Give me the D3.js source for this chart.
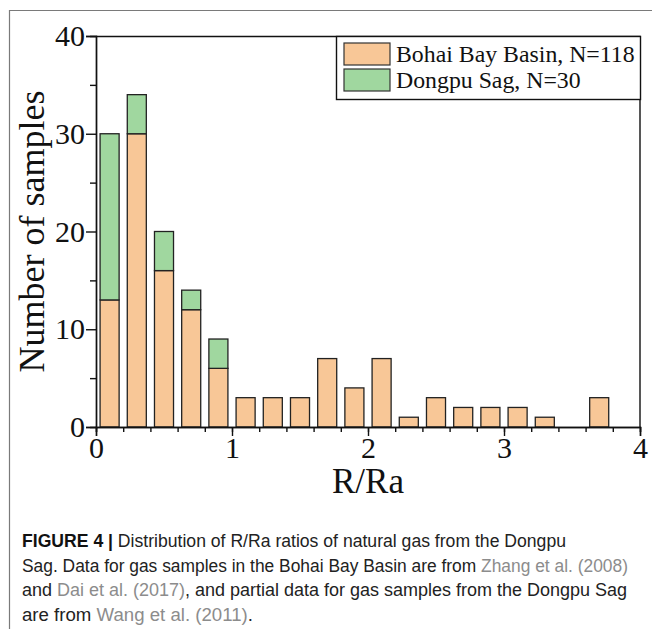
<!DOCTYPE html>
<html>
<head>
<meta charset="utf-8">
<script src="https://cdn.jsdelivr.net/npm/d3@7"></script>
<style>
  body { margin: 0; background: #fff; }
  svg { display: block; }
</style>
</head>
<body>
<svg id="chart" width="652" height="629"></svg>
<script>
// bin centres of the R/Ra histogram (bin width 0.2)
const binCenters = [0.1, 0.3, 0.5, 0.7, 0.9, 1.1, 1.3, 1.5, 1.7, 1.9, 2.1, 2.3, 2.5, 2.7, 2.9, 3.1, 3.3, 3.5, 3.7];
const bohaiCounts = [13, 30, 16, 12, 6, 3, 3, 3, 7, 4, 7, 1, 3, 2, 2, 2, 1, 0, 3];
const dongpuCounts = [17, 4, 4, 2, 3, 0, 0, 0, 0, 0, 0, 0, 0, 0, 0, 0, 0, 0, 0];
const seriesNames = ["Bohai Bay Basin, N=118", "Dongpu Sag, N=30"];
const seriesColors = ["#f8c797", "#a0d79f"];
const xTicks = [0, 1, 2, 3, 4];
const xMinorTicks = d3.range(0, 4.01, 0.2);
const yTicks = [0, 10, 20, 30, 40];
const yMinorTicks = [5, 15, 25, 35];

let svg = d3.select("#chart");
let margin = {left: 96, top: 36, right: 12, bottom: 202};
let width = +svg.attr("width") - margin.left - margin.right;
let height = +svg.attr("height") - margin.top - margin.bottom;

let x = d3.scaleLinear().domain([0, 4]).range([0, width]);
let y = d3.scaleLinear().domain([0, 40]).range([height, 0]);
const serif = "'Liberation Serif', 'Times New Roman', serif";

// outer figure frame (only top and left visible)
svg.append("path")
    .attr("d", "M9.5,660 V10.5 H700")
    .attr("fill", "none")
    .attr("stroke", "#7a7a7a")
    .attr("stroke-width", 1.2);

let g = svg.append("g").attr("transform", `translate(${margin.left}, ${margin.top})`);

// stack the two series
let rows = binCenters.map((c, i) => ({center: c, bohai: bohaiCounts[i], dongpu: dongpuCounts[i]}));
let stacked = d3.stack().keys(["bohai", "dongpu"])(rows);
let barW = (x(0.2) - x(0)) * 0.7;

stacked.forEach((layer, li) => {
    g.selectAll(".bar-" + li)
        .data(layer.filter((d) => d[1] > d[0]))
        .enter()
        .append("rect")
        .attr("class", "bar-" + li)
        .attr("x", (d) => x(d.data.center) - barW / 2)
        .attr("y", (d) => y(d[1]))
        .attr("width", barW)
        .attr("height", (d) => y(d[0]) - y(d[1]))
        .attr("fill", seriesColors[li])
        .attr("stroke", "#222")
        .attr("stroke-width", 1.3);
});

// frame top/right
g.append("path")
    .attr("d", `M0,0.5 H${width} V${height}`)
    .attr("fill", "none")
    .attr("stroke", "#111")
    .attr("stroke-width", 1.4);

// axes
let xAxis = g.append("g").attr("transform", `translate(0, ${height})`);
xAxis.call(d3.axisBottom(x).tickValues(xMinorTicks).tickSize(5).tickFormat(""));
xAxis.append("g").call(d3.axisBottom(x).tickValues(xTicks).tickSize(9).tickPadding(2).tickFormat(d3.format("d")));
let yAxis = g.append("g");
yAxis.call(d3.axisLeft(y).tickValues(yMinorTicks).tickSize(6).tickFormat(""));
yAxis.append("g").call(d3.axisLeft(y).tickValues(yTicks).tickSize(10).tickPadding(1).tickFormat(d3.format("d")));

g.selectAll(".domain").attr("stroke", "#111").attr("stroke-width", 1.4);
g.selectAll(".tick line").attr("stroke", "#111").attr("stroke-width", 1.4);
g.selectAll(".tick text")
    .attr("font-family", serif)
    .attr("font-size", 30)
    .attr("fill", "#111");
xAxis.selectAll(".tick text").attr("dy", "0.68em");

// axis titles
svg.append("text")
    .attr("transform", `translate(44, ${margin.top + height / 2}) rotate(270)`)
    .attr("text-anchor", "middle")
    .attr("font-family", serif)
    .attr("font-size", 36)
    .attr("fill", "#111")
    .text("Number of samples");
svg.append("text")
    .attr("x", margin.left + width / 2)
    .attr("y", 493)
    .attr("text-anchor", "middle")
    .attr("font-family", serif)
    .attr("font-size", 35)
    .attr("fill", "#111")
    .text("R/Ra");

// legend
let legend = g.append("g").attr("transform", `translate(${width - 304}, 0)`);
legend.append("rect")
    .attr("x", 0.5).attr("y", 0.5)
    .attr("width", 304).attr("height", 63)
    .attr("fill", "#fff")
    .attr("stroke", "#111")
    .attr("stroke-width", 1.4);
let items = legend.selectAll(".legend-item")
    .data(seriesNames)
    .enter()
    .append("g")
    .attr("class", "legend-item")
    .attr("transform", (d, i) => `translate(8, ${7 + i * 26})`);
items.append("rect")
    .attr("width", 46).attr("height", 22)
    .attr("fill", (d, i) => seriesColors[i])
    .attr("stroke", "#333")
    .attr("stroke-width", 1.2);
items.append("text")
    .attr("x", 52)
    .attr("y", 19)
    .attr("font-family", serif)
    .attr("font-size", 23.8)
    .attr("fill", "#111")
    .text((d) => d);

// caption
const captionLines = [
    [["FIGURE 4 | ", "#111", "bold"], ["Distribution of R/Ra ratios of natural gas from the Dongpu", "#222", "normal"]],
    [["Sag. Data for gas samples in the Bohai Bay Basin are from ", "#222", "normal"], ["Zhang et al. (2008)", "#8c8c8c", "normal"]],
    [["and ", "#222", "normal"], ["Dai et al. (2017)", "#8c8c8c", "normal"], [", and partial data for gas samples from the Dongpu Sag", "#222", "normal"]],
    [["are from ", "#222", "normal"], ["Wang et al. (2011)", "#8c8c8c", "normal"], [".", "#222", "normal"]]
];
const captionWidths = [544, 606, 605, 231];
captionLines.forEach((line, i) => {
    let t = svg.append("text")
        .attr("x", 22)
        .attr("y", 547 + i * 24.7)
        .attr("font-family", "'Liberation Sans', Arial, sans-serif")
        .attr("font-size", 17.5)
        .attr("textLength", captionWidths[i])
        .attr("lengthAdjust", "spacingAndGlyphs");
    line.forEach((part) => {
        t.append("tspan")
            .attr("fill", part[1])
            .attr("font-weight", part[2])
            .text(part[0]);
    });
});
</script>
</body>
</html>
